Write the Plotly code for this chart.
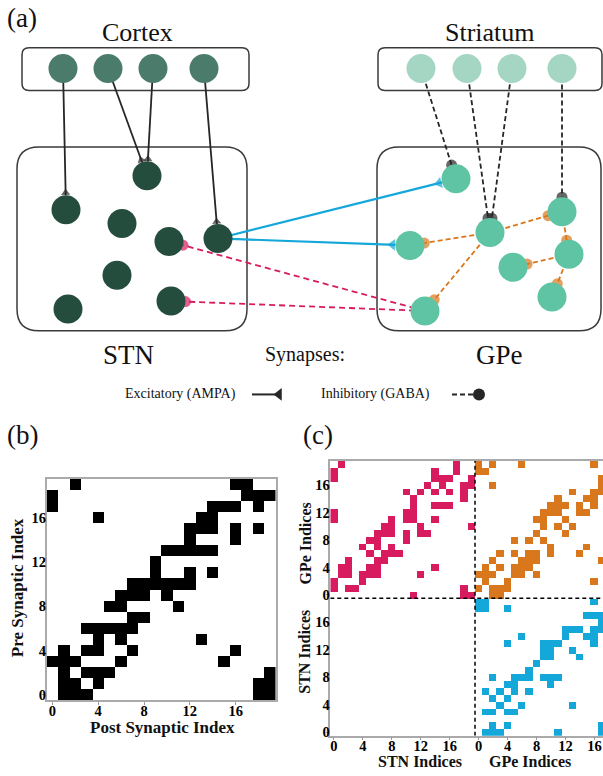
import math
import numpy as np
import plotly.graph_objects as go

SERIF = "Times New Roman, Liberation Serif, Times, serif"
N = 20
TICKS = [0, 4, 8, 12, 16]

# ---------------- (b) connectivity, row = pre-synaptic index, entries = post-synaptic indices
SYN_TARGETS = [
    [1, 2, 3, 18, 19],
    [1, 2, 4, 18, 19],
    [1, 3, 4, 5, 19],
    [0, 1, 2, 6, 15],
    [1, 3, 4, 7, 16],
    [4, 6, 13],
    [3, 4, 5, 6, 7],
    [7, 8],
    [5, 6, 11],
    [6, 7, 8, 10],
    [7, 8, 9, 10, 11, 12],
    [9, 12, 14],
    [9],
    [10, 11, 12, 13, 14],
    [12, 16],
    [12, 13, 14, 16, 18],
    [4, 13, 14],
    [0, 14, 15, 16, 18],
    [0, 17, 18, 19],
    [2, 16, 17],
]

# ---------------- (c) population blocks, row = pre-synaptic neuron
GPE_TO_STN = [
    [11, 18, 19],
    [0, 2, 3, 18],
    [0, 4],
    [1, 2, 4, 5, 6, 12],
    [1, 2, 5, 6, 14],
    [2, 6, 7],
    [5, 7, 8, 9],
    [4, 6, 8],
    [5, 6, 10],
    [6, 7, 8, 10, 12, 13],
    [7, 8, 12, 19],
    [0, 8, 10, 11, 14],
    [0, 10, 11],
    [11, 14, 15, 16],
    [11, 18],
    [10, 12, 14, 16, 18],
    [13, 15, 18, 19],
    [0, 14, 15, 16, 19],
    [0, 14, 17],
    [1, 17],
]

GPE_TO_GPE = [
    [2, 3],
    [0, 2, 3, 4],
    [1, 4, 16],
    [0, 1, 2, 5, 6, 8],
    [1, 3, 5, 6, 7],
    [2, 6, 7, 8, 17],
    [3, 5, 7, 8, 10, 14],
    [10, 15],
    [5, 7, 9],
    [8, 12],
    [9, 11, 13],
    [8, 9, 12],
    [9, 10, 11, 14, 15],
    [10, 11, 12, 14, 16],
    [11, 15, 16],
    [13, 16, 17],
    [2, 17],
    [17],
    [0, 1],
    [0, 2, 6, 16],
]

STN_TO_GPE = [
    [1, 2, 3, 11, 17],
    [2, 4, 17],
    [],
    [1, 2, 4, 5],
    [3, 6, 13],
    [2, 4],
    [1, 3, 5, 7],
    [4, 5, 10],
    [2, 5, 6, 7, 9, 10, 11],
    [7],
    [8],
    [9, 10, 14],
    [9, 10, 13],
    [4, 9, 10, 11, 16],
    [6, 12, 15, 16],
    [12, 13, 14, 16, 17],
    [17],
    [15, 16, 17],
    [0, 1, 4],
    [0, 1, 16],
]

PINK = "#d81b5e"
ORANGE = "#d9771c"
BLUE = "#14a7d9"
DARK = "#262626"

CORTEX_COL = "#4b7b6a"
STRIATUM_COL = "#a5d6c4"
STN_COL = "#254d3d"
GPE_COL = "#5fc4a3"


def to_matrix(rows, n_cols=N):
    m = np.zeros((len(rows), n_cols))
    for r, cols in enumerate(rows):
        for c in cols:
            m[r, c] = 1
    return m


b_mat = to_matrix(SYN_TARGETS)

# rows/cols 0..19 = STN, 20..39 = GPe
c_mat = np.zeros((2 * N, 2 * N))
c_mat[N:, :N] = to_matrix(GPE_TO_STN) * 1
c_mat[N:, N:] = to_matrix(GPE_TO_GPE) * 2
c_mat[:N, N:] = to_matrix(STN_TO_GPE) * 3

fig = go.Figure()

fig.add_trace(go.Heatmap(
    z=b_mat, x=list(range(N)), y=list(range(N)),
    colorscale=[[0, "white"], [1, "black"]], zmin=0, zmax=1,
    showscale=False, xaxis="x", yaxis="y", hoverinfo="skip"))

fig.add_trace(go.Heatmap(
    z=c_mat, x=list(range(2 * N)), y=list(range(2 * N)),
    colorscale=[[0, "white"], [1 / 6, "white"], [1 / 6, PINK], [0.5, PINK],
                [0.5, ORANGE], [5 / 6, ORANGE], [5 / 6, BLUE], [1, BLUE]],
    zmin=0, zmax=3, showscale=False, xaxis="x2", yaxis="y2", hoverinfo="skip"))

# ---------------- (a) network diagram, drawn in a pixel-space overlay axis
R = 14.5
CORTEX = [(63, 69), (108, 69), (153, 69), (204, 69)]
STRIATUM = [(421, 69), (467, 69), (512, 69), (562, 69)]
STN = [(147, 177), (66, 211), (122, 225), (169, 243), (218, 240), (117, 277), (68, 311), (171, 303)]
GPE = [(456, 180), (410, 247), (490, 234), (562, 213), (569, 256), (513, 269), (552, 299), (425, 313)]

# (source, target, colour, dash, head)
CONNECTIONS = [
    (CORTEX[0], STN[1], DARK, "solid", "tri"),
    (CORTEX[1], STN[0], DARK, "solid", "tri"),
    (CORTEX[2], STN[0], DARK, "solid", "tri"),
    (CORTEX[3], STN[4], DARK, "solid", "tri"),
    (STN[4], GPE[0], BLUE, "solid", "tri"),
    (STN[4], GPE[1], BLUE, "solid", "tri"),
    (GPE[7], STN[3], PINK, "6px,4px", "dot"),
    (GPE[7], STN[7], PINK, "6px,4px", "dot"),
    (STRIATUM[0], GPE[0], DARK, "5px,3px", "dot"),
    (STRIATUM[1], GPE[2], DARK, "5px,3px", "dot"),
    (STRIATUM[2], GPE[2], DARK, "5px,3px", "dot"),
    (STRIATUM[3], GPE[3], DARK, "5px,3px", "dot"),
    (GPE[2], GPE[1], ORANGE, "5px,3px", "dot"),
    (GPE[2], GPE[3], ORANGE, "5px,3px", "dot"),
    (GPE[2], GPE[7], ORANGE, "5px,3px", "dot"),
    (GPE[3], GPE[4], ORANGE, "5px,3px", "dot"),
    (GPE[4], GPE[5], ORANGE, "5px,3px", "dot"),
    (GPE[4], GPE[6], ORANGE, "5px,3px", "dot"),
]


def overlay(**kw):
    return go.Scatter(xaxis="x3", yaxis="y3", showlegend=False, hoverinfo="skip", **kw)


heads = []
for src, tgt, col, dash, head in CONNECTIONS:
    dx, dy = src[0] - tgt[0], src[1] - tgt[1]
    L = math.hypot(dx, dy)
    ux, uy = dx / L, dy / L
    ex, ey = tgt[0] + R * ux, tgt[1] + R * uy
    width = 2.2 if col == BLUE else 1.8
    fig.add_trace(overlay(x=[src[0], ex], y=[src[1], ey], mode="lines",
                          line=dict(color=col, width=width, dash=dash)))
    if head == "dot":
        heads.append(dict(x=ex, y=ey, symbol="circle", size=11, color=col, angle=0))
    else:
        size = 10 if col == BLUE else 8
        ang = math.degrees(math.atan2(ux, -uy))
        off = size * 0.3
        heads.append(dict(x=ex + off * ux, y=ey + off * uy, symbol="triangle-up",
                          size=size, color=col, angle=ang))

fig.add_trace(overlay(
    x=[h["x"] for h in heads], y=[h["y"] for h in heads], mode="markers",
    marker=dict(symbol=[h["symbol"] for h in heads], size=[h["size"] for h in heads],
                color=[h["color"] for h in heads], angle=[h["angle"] for h in heads],
                line=dict(width=0))))

for group, col in [(CORTEX, CORTEX_COL), (STRIATUM, STRIATUM_COL), (STN, STN_COL), (GPE, GPE_COL)]:
    fig.add_trace(overlay(x=[p[0] for p in group], y=[p[1] for p in group], mode="markers",
                          marker=dict(size=2 * R, color=col, line=dict(width=0))))

# legend glyphs for synapse types
fig.add_trace(overlay(x=[252, 276], y=[397, 397], mode="lines", line=dict(color=DARK, width=2)))
fig.add_trace(overlay(x=[279], y=[397], mode="markers",
                      marker=dict(symbol="triangle-left", size=11, color=DARK)))
fig.add_trace(overlay(x=[452, 476], y=[397, 397], mode="lines",
                      line=dict(color=DARK, width=2, dash="5px,3px")))
fig.add_trace(overlay(x=[479], y=[397], mode="markers",
                      marker=dict(symbol="circle", size=12, color=DARK)))


def rounded_box(x0, y0, x1, y1, r):
    return (f"M {x0 + r},{y0} L {x1 - r},{y0} Q {x1},{y0} {x1},{y0 + r} "
            f"L {x1},{y1 - r} Q {x1},{y1} {x1 - r},{y1} L {x0 + r},{y1} "
            f"Q {x0},{y1} {x0},{y1 - r} L {x0},{y0 + r} Q {x0},{y0} {x0 + r},{y0} Z")


shapes = []
for box in [(22, 48, 249, 91, 7), (378, 48, 602, 91, 7), (17, 148, 247, 333, 22), (377, 148, 601, 333, 22)]:
    shapes.append(dict(type="path", path=rounded_box(*box), xref="x3", yref="y3",
                       line=dict(color="#3a3a3a", width=1.5), layer="below"))

# block separators in (c)
shapes.append(dict(type="line", xref="x2", yref="y2", x0=19.5, x1=19.5, y0=-0.5, y1=39.5,
                   line=dict(color="black", width=1.5, dash="4px,3px")))
shapes.append(dict(type="line", xref="x2", yref="y2", x0=-0.5, x1=39.5, y0=19.5, y1=19.5,
                   line=dict(color="black", width=1.5, dash="4px,3px")))


def txt(x, y, s, size, bold=False, angle=0, yanchor="middle"):
    return dict(x=x, y=y, xref="x3", yref="y3", text=f"<b>{s}</b>" if bold else s,
                showarrow=False, xanchor="center", yanchor=yanchor, textangle=angle,
                borderpad=0, font=dict(family=SERIF, size=size, color="#111"))


annotations = [
    txt(22, 18, "(a)", 27),
    txt(137, 33, "Cortex", 26),
    txt(490, 33, "Striatum", 26),
    txt(128, 357, "STN", 27),
    txt(499, 357, "GPe", 27),
    txt(305, 357, "Synapses:", 20),
    txt(180, 397, "Excitatory (AMPA)", 14),
    txt(375, 397, "Inhibitory (GABA)", 14),
    txt(22, 438, "(b)", 27),
    txt(318, 438, "(c)", 27),
    txt(17, 592, "Pre Synaptic Index", 17, True, -90),
    txt(162, 732, "Post Synaptic Index", 17, True),
    txt(420, 776, "STN Indices", 16, True, yanchor="bottom"),
    txt(530, 776, "GPe Indices", 16, True, yanchor="bottom"),
    txt(305, 547, "GPe Indices", 16, True, -90),
    txt(305, 656, "STN Indices", 16, True, -90),
]

tickfont = dict(family=SERIF, size=14.5, color="black")
axis_common = dict(showgrid=False, zeroline=False, showline=True, linecolor="#aaaaaa",
                   linewidth=1.5, ticks="outside", ticklen=3, tickcolor="#999999",
                   tickfont=tickfont, ticklabelstandoff=-7, fixedrange=True)
bold_ticks = [f"<b>{t}</b>" for t in TICKS]

fig.update_layout(
    width=603, height=776, margin=dict(l=0, r=0, t=0, b=0),
    paper_bgcolor="white", plot_bgcolor="rgba(0,0,0,0)", showlegend=False,
    font=dict(family=SERIF),
    xaxis=dict(domain=[46.7 / 603, 275.7 / 603], anchor="y", range=[-0.5, 19.5],
               tickvals=TICKS, ticktext=bold_ticks, mirror=True, **axis_common),
    yaxis=dict(domain=[1 - 705 / 776, 1 - 481.7 / 776], anchor="x", range=[-0.5, 19.5],
               tickvals=TICKS, ticktext=bold_ticks, mirror=True, **axis_common),
    xaxis2=dict(domain=[330.3 / 603, 1], anchor="y2", range=[-0.5, 37.19],
                tickvals=TICKS + [t + N for t in TICKS], ticktext=bold_ticks * 2,
                mirror=True, **axis_common),
    yaxis2=dict(domain=[1 - 740.5 / 776, 1 - 464 / 776], anchor="x2", range=[-0.5, 39.5],
                tickvals=TICKS + [t + N for t in TICKS], ticktext=bold_ticks * 2,
                mirror=False, **axis_common),
    xaxis3=dict(domain=[0, 1], anchor="y3", range=[0, 603], visible=False, fixedrange=True),
    yaxis3=dict(domain=[0, 1], anchor="x3", range=[776, 0], visible=False, fixedrange=True),
    shapes=shapes, annotations=annotations,
)

fig.write_html("out.html")
